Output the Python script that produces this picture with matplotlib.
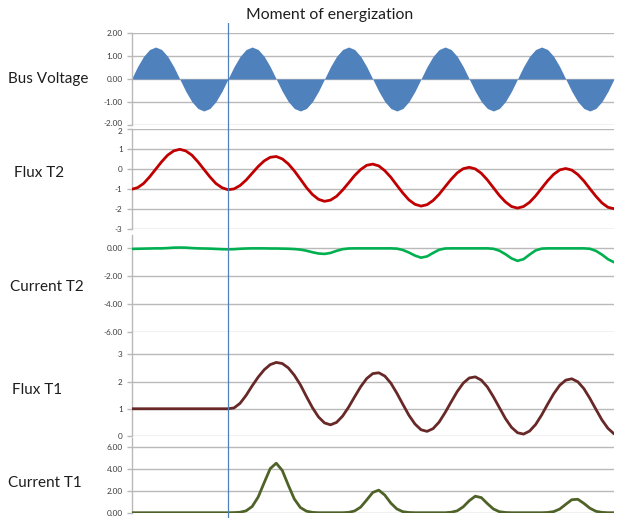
import numpy as np
import matplotlib
matplotlib.use("Agg")
import matplotlib.pyplot as plt
from matplotlib.ticker import FormatStrFormatter
from matplotlib.transforms import ScaledTranslation

plt.rcParams['font.family'] = ['Lato', 'DejaVu Sans']
plt.rcParams['axes.unicode_minus'] = False

# Time axis in power-frequency cycles, 16 samples per cycle
cycles = np.arange(81) / 16.0
energization_cycle = 1.0

bus_voltage = [
    0.00, 0.54, 0.99, 1.29, 1.40, 1.29, 0.99, 0.54, 0.00, -0.54, -0.99, -1.29, -1.40, -1.29, -0.99, -0.54,
    0.00, 0.54, 0.99, 1.29, 1.40, 1.29, 0.99, 0.54, 0.00, -0.54, -0.99, -1.29, -1.40, -1.29, -0.99, -0.54,
    0.00, 0.54, 0.99, 1.29, 1.40, 1.29, 0.99, 0.54, 0.00, -0.54, -0.99, -1.29, -1.40, -1.29, -0.99, -0.54,
    0.00, 0.54, 0.99, 1.29, 1.40, 1.29, 0.99, 0.54, 0.00, -0.54, -0.99, -1.29, -1.40, -1.29, -0.99, -0.54,
    0.00, 0.54, 0.99, 1.29, 1.40, 1.29, 0.99, 0.54, 0.00, -0.54, -0.99, -1.29, -1.40, -1.29, -0.99, -0.54,
    0.00,
]

flux_t2 = [
    -1.00, -0.92, -0.71, -0.38, 0.00, 0.38, 0.71, 0.92, 1.00, 0.92, 0.71, 0.38, 0.00, -0.38, -0.71, -0.92,
    -1.02, -0.98, -0.81, -0.54, -0.20, 0.14, 0.42, 0.60, 0.64, 0.52, 0.27, -0.08, -0.49, -0.91, -1.26, -1.50,
    -1.60, -1.54, -1.35, -1.04, -0.68, -0.31, -0.01, 0.20, 0.26, 0.17, -0.07, -0.40, -0.80, -1.19, -1.53, -1.75,
    -1.84, -1.77, -1.56, -1.25, -0.87, -0.50, -0.18, 0.03, 0.10, 0.02, -0.20, -0.53, -0.92, -1.31, -1.63, -1.86,
    -1.94, -1.86, -1.65, -1.33, -0.95, -0.57, -0.25, -0.03, 0.04, -0.04, -0.26, -0.58, -0.97, -1.35, -1.68, -1.90,
    -1.97,
]

current_t2 = [
    -0.04, -0.03, -0.02, -0.01, 0.00, 0.00, 0.02, 0.05, 0.06, 0.05, 0.02, 0.00, -0.01, -0.02, -0.04, -0.06,
    -0.07, -0.06, -0.03, -0.01, 0.00, 0.00, 0.00, -0.01, -0.01, -0.02, -0.03, -0.05, -0.09, -0.17, -0.28, -0.37,
    -0.40, -0.33, -0.18, -0.06, -0.01, 0.00, 0.00, 0.00, 0.00, 0.00, 0.00, 0.00, -0.02, -0.12, -0.30, -0.52,
    -0.67, -0.58, -0.33, -0.10, -0.01, 0.00, 0.00, 0.00, 0.00, 0.00, 0.00, 0.00, -0.03, -0.17, -0.42, -0.72,
    -0.90, -0.78, -0.45, -0.15, -0.02, 0.00, 0.00, 0.00, 0.00, 0.00, 0.00, 0.00, -0.03, -0.18, -0.45, -0.78,
    -1.00,
]

flux_t1 = [
    1.00, 1.00, 1.00, 1.00, 1.00, 1.00, 1.00, 1.00, 1.00, 1.00, 1.00, 1.00, 1.00, 1.00, 1.00, 1.00,
    1.00, 1.03, 1.20, 1.49, 1.84, 2.16, 2.43, 2.62, 2.70, 2.66, 2.50, 2.23, 1.88, 1.45, 1.04, 0.70,
    0.48, 0.41, 0.50, 0.73, 1.06, 1.44, 1.81, 2.11, 2.29, 2.32, 2.20, 1.94, 1.57, 1.16, 0.76, 0.44,
    0.23, 0.17, 0.27, 0.51, 0.86, 1.25, 1.63, 1.94, 2.13, 2.17, 2.05, 1.80, 1.44, 1.04, 0.64, 0.32,
    0.12, 0.07, 0.18, 0.42, 0.77, 1.17, 1.55, 1.86, 2.05, 2.10, 1.99, 1.74, 1.38, 0.98, 0.59, 0.28,
    0.08,
]

current_t1 = [
    0.00, 0.00, 0.00, 0.00, 0.00, 0.00, 0.00, 0.00, 0.00, 0.00, 0.00, 0.00, 0.00, 0.00, 0.00, 0.00,
    0.00, 0.01, 0.04, 0.17, 0.56, 1.42, 2.73, 4.01, 4.50, 3.84, 2.50, 1.24, 0.47, 0.14, 0.03, 0.00,
    0.00, 0.00, 0.00, 0.00, 0.03, 0.16, 0.51, 1.16, 1.84, 2.05, 1.60, 0.87, 0.34, 0.09, 0.02, 0.00,
    0.00, 0.00, 0.00, 0.00, 0.00, 0.04, 0.17, 0.53, 1.09, 1.50, 1.37, 0.83, 0.34, 0.09, 0.02, 0.00,
    0.00, 0.00, 0.00, 0.00, 0.00, 0.02, 0.10, 0.33, 0.76, 1.18, 1.22, 0.85, 0.41, 0.13, 0.03, 0.00,
    0.00,
]

panel_names = ["Bus Voltage", "Flux T2", "Current T2", "Flux T1", "Current T1"]
panel_ticks = [[-2, -1, 0, 1, 2], [-3, -2, -1, 0, 1, 2], [-6, -4, -2, 0], [0, 1, 2, 3], [0, 2, 4, 6]]
panel_formats = ["%.2f", "%d", "%.2f", "%d", "%.2f"]
title_text = "Moment of energization"

W, H = 619, 518
fig = plt.figure(figsize=(W / 100, H / 100), dpi=100)
fig.patch.set_facecolor("white")

x_left, x_right = 131.5, 614.0
# (top px, bottom px, ymin, ymax) for each stacked panel
frames = [
    (33.3, 124.7, -2.0, 2.0),
    (129.3, 229.3, -3.0, 2.0),
    (235.3, 331.7, -6.0, 0.94),
    (333.0, 436.0, 0.0, 3.78),
    (438.0, 512.7, 0.0, 6.79),
]
label_pos = [(8, 79), (14, 173), (10, 287), (12, 390), (8, 483)]

grid_color = "#b9b9b9"
line_style = dict(solid_joinstyle="round", solid_capstyle="round", zorder=3)
axes = []
for (top, bot, y0, y1), ticks, fmt in zip(frames, panel_ticks, panel_formats):
    ax = fig.add_axes([x_left / W, 1 - bot / H, (x_right - x_left) / W, (bot - top) / H])
    ax.set_xlim(0, 5)
    ax.set_ylim(y0, y1)
    ax.set_facecolor("none")
    for s in ("top", "right", "bottom"):
        ax.spines[s].set_visible(False)
    ax.spines["left"].set_color(grid_color)
    ax.spines["left"].set_linewidth(1.0)
    ax.set_xticks([])
    ax.set_yticks(ticks)
    ax.yaxis.set_major_formatter(FormatStrFormatter(fmt))
    ax.tick_params(axis="y", length=3.4, width=1.0, color=grid_color, pad=3.0,
                   labelsize=5.9, labelcolor="#3c3c3c")
    ax.yaxis.grid(True, color=grid_color, linewidth=1.0)
    ax.set_axisbelow(True)
    axes.append(ax)

# Nudge the two labels where the top panels meet so they don't collide
def nudge_label(ax, index, dy_pt):
    lab = ax.get_yticklabels()[index]
    lab.set_transform(lab.get_transform() + ScaledTranslation(0, dy_pt / 72, fig.dpi_scale_trans))

nudge_label(axes[0], 0, 1.3)
nudge_label(axes[1], -1, -1.3)

axes[0].fill_between(cycles, 0, bus_voltage, color="#4f81bd", linewidth=0, zorder=2)
axes[1].plot(cycles, flux_t2, color="#c00000", linewidth=2.0, **line_style)
axes[2].plot(cycles, current_t2, color="#00b050", linewidth=1.9, **line_style)
axes[3].plot(cycles, flux_t1, color="#682828", linewidth=2.0, **line_style)
axes[4].plot(cycles, current_t1, color="#4f6228", linewidth=2.0, **line_style)

for name, (lx, ly) in zip(panel_names, label_pos):
    fig.text(lx / W, 1 - ly / H, name, ha="left", va="center", fontsize=11, color="#1e1e1e")

# Energization marker spanning all panels
over = fig.add_axes([x_left / W, 0, (x_right - x_left) / W, 1 - 23 / H])
over.set_xlim(0, 5)
over.set_ylim(0, 1)
over.axis("off")
over.patch.set_alpha(0)
over.axvline(energization_cycle, color="#4f81bd", linewidth=0.9)

fig.text(330 / W, 1 - 15 / H, title_text, ha="center", va="center", fontsize=11.3, color="#1e1e1e")

fig.savefig("out.png", dpi=100, facecolor="white")
